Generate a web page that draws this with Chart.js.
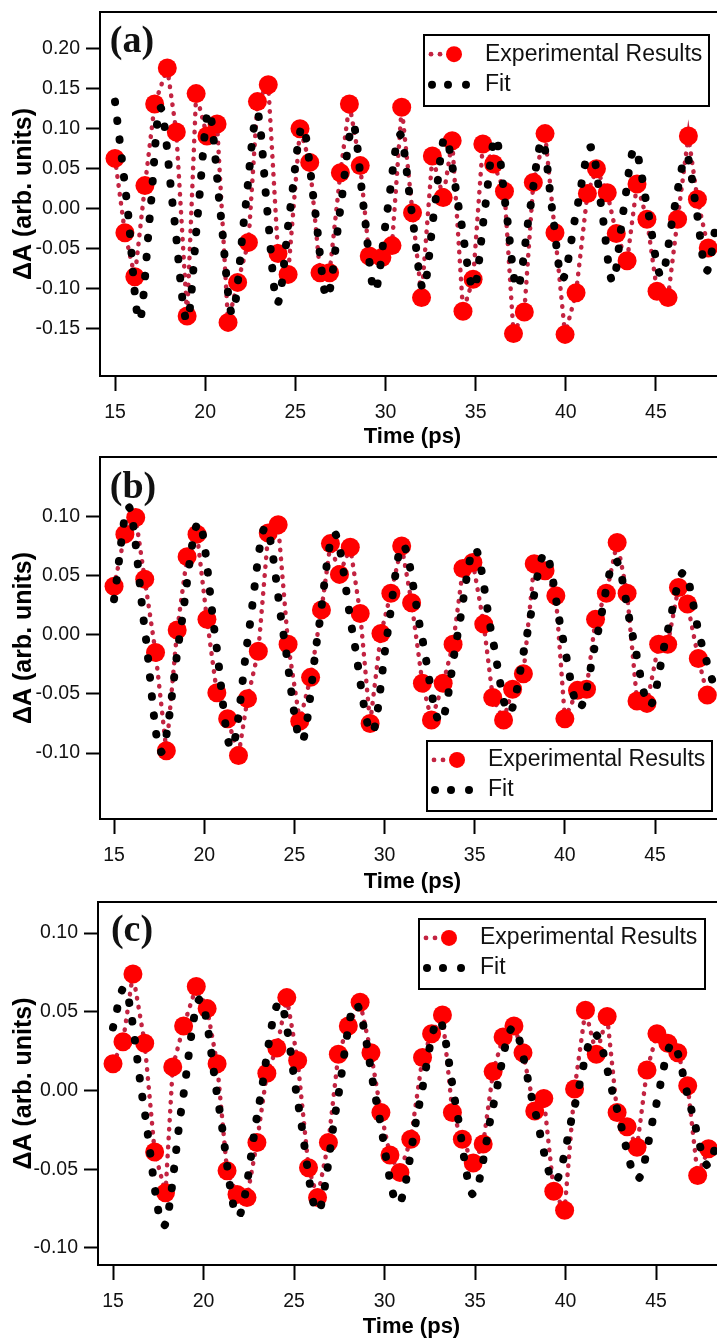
<!DOCTYPE html>
<html>
<head>
<meta charset="utf-8">
<script src="https://cdn.jsdelivr.net/npm/chart.js"></script>
<style>
  html, body { margin: 0; padding: 0; background: #fff; overflow: hidden; width: 717px; height: 1340px; }
  canvas { position: absolute; left: 0; }
</style>
</head>
<body>
<!-- the plots run a little past the right edge of the page -->
<canvas id="panelA" width="725" height="450" style="top:0px"></canvas>
<canvas id="panelB" width="725" height="445" style="top:450px"></canvas>
<canvas id="panelC" width="725" height="445" style="top:895px"></canvas>
<script>
// tick labels
const timeTicks = [15, 20, 25, 30, 35, 40, 45];
const dATicksA = [-0.15, -0.10, -0.05, 0.00, 0.05, 0.10, 0.15, 0.20];
const dATicksB = [-0.10, -0.05, 0.00, 0.05, 0.10];
const dATicksC = [-0.10, -0.05, 0.00, 0.05, 0.10];

// (a) measured transient absorption and fit
const expTimeA = [15.0, 15.55, 16.1, 16.66, 17.2, 17.9, 18.4, 19.0, 19.5, 20.1, 20.66, 21.27, 21.8, 22.4, 22.9, 23.5,
  24.04, 24.6, 25.26, 25.8, 26.37, 26.9, 27.5, 28.0, 28.6, 29.1, 29.8, 30.36, 30.9, 31.5, 32.0, 32.6, 33.2, 33.7,
  34.3, 34.86, 35.4, 36.0, 36.6, 37.1, 37.7, 38.2, 38.85, 39.4, 39.96, 40.57, 41.2, 41.7, 42.3, 42.8, 43.4, 43.95,
  44.5, 45.06, 45.67, 46.2, 46.8, 47.3, 47.9];
const expA = [0.063, -0.030, -0.085, 0.029, 0.131, 0.176, 0.096, -0.134, 0.144, 0.091, 0.106, -0.142, -0.092, -0.042,
  0.134, 0.155, -0.056, -0.082, 0.100, 0.058, -0.080, -0.080, 0.045, 0.131, 0.054, -0.059, -0.061, -0.046, 0.127,
  -0.005, -0.111, 0.066, 0.014, 0.085, -0.128, -0.088, 0.081, 0.056, 0.022, -0.156, -0.129, 0.033, 0.094, -0.030,
  -0.157, -0.105, 0.019, 0.050, 0.020, -0.031, -0.065, 0.031, -0.013, -0.103, -0.111, -0.013, 0.091, 0.012, -0.049];
const fitTimeA = [15.0, 15.7, 16.35, 16.95, 17.5, 18.25, 19.0, 19.6, 20.2, 20.85, 21.5, 22.2, 22.9, 23.45, 24.0, 24.7,
  25.4, 26.1, 26.75, 27.5, 28.2, 28.8, 29.4, 30.1, 30.8, 31.45, 32.1, 32.7, 33.3, 34.1, 34.9, 35.5, 36.1, 36.7, 37.3,
  38.0, 38.7, 39.25, 39.8, 40.6, 41.4, 42.0, 42.6, 43.2, 43.8, 44.55, 45.3, 46.0, 46.7, 47.25, 47.8, 48.4];
const fitA = [0.134, 0.000, -0.140, -0.005, 0.127, -0.005, -0.140, -0.005, 0.122, -0.005, -0.131, -0.005, 0.119,
  -0.003, -0.118, -0.003, 0.103, -0.003, -0.111, 0.000, 0.105, 0.000, -0.103, -0.003, 0.093, -0.003, -0.100, -0.003,
  0.089, -0.003, -0.100, -0.003, 0.089, -0.003, -0.099, -0.003, 0.085, -0.002, -0.088, -0.002, 0.077, -0.002, -0.091,
  -0.002, 0.075, -0.002, -0.084, -0.002, 0.066, -0.002, -0.078, -0.010];

// (b)
const expTimeB = [15.0, 15.6, 16.2, 16.7, 17.3, 17.9, 18.5, 19.05, 19.6, 20.15, 20.7, 21.3, 21.9, 22.4, 23.0, 23.55,
  24.1, 24.65, 25.3, 25.9, 26.5, 27.0, 27.5, 28.1, 28.65, 29.2, 29.8, 30.35, 30.95, 31.5, 32.1, 32.6, 33.25, 33.8,
  34.35, 34.9, 35.5, 36.0, 36.6, 37.1, 37.7, 38.3, 38.9, 39.5, 40.0, 40.7, 41.2, 41.7, 42.3, 42.9, 43.45, 44.0,
  44.55, 45.2, 45.7, 46.3, 46.8, 47.4, 47.9];
const expB = [0.041, 0.085, 0.099, 0.047, -0.015, -0.098, 0.004, 0.066, 0.085, 0.013, -0.049, -0.071, -0.102, -0.054,
  -0.014, 0.086, 0.093, -0.008, -0.073, -0.036, 0.021, 0.077, 0.051, 0.074, 0.018, -0.075, 0.001, 0.035, 0.075,
  0.027, -0.041, -0.072, -0.041, -0.008, 0.056, 0.061, 0.009, -0.053, -0.072, -0.046, -0.033, 0.060, 0.054, 0.033,
  -0.071, -0.047, -0.046, 0.013, 0.035, 0.078, 0.035, -0.056, -0.058, -0.008, -0.008, 0.040, 0.026, -0.020, -0.051];
const fitTimeB = [15.0, 15.8, 16.7, 17.6, 18.65, 19.7, 20.6, 21.5, 22.45, 23.4, 24.4, 25.4, 26.3, 27.2, 28.25, 29.3,
  30.15, 31.0, 32.05, 33.1, 34.05, 35.0, 35.95, 36.9, 37.9, 38.9, 39.85, 40.8, 41.8, 42.8, 43.75, 44.7, 45.65, 46.6,
  47.5, 48.4];
const fitB = [0.030, 0.108, 0.005, -0.099, 0.000, 0.095, 0.000, -0.096, 0.000, 0.091, 0.000, -0.090, 0.000, 0.086,
  0.000, -0.083, 0.000, 0.076, 0.000, -0.074, 0.000, 0.073, 0.000, -0.066, 0.000, 0.069, 0.000, -0.062, 0.000, 0.063,
  0.000, -0.060, 0.000, 0.053, -0.003, -0.050];

// (c)
const expTimeC = [15.0, 15.55, 16.1, 16.75, 17.3, 17.9, 18.3, 18.9, 19.6, 20.2, 20.75, 21.3, 21.85, 22.4, 22.95, 23.5,
  24.05, 24.6, 25.2, 25.8, 26.3, 26.9, 27.45, 28.0, 28.65, 29.25, 29.8, 30.3, 30.85, 31.45, 32.1, 32.6, 33.2, 33.75,
  34.3, 34.9, 35.45, 36.0, 36.55, 37.15, 37.65, 38.3, 38.8, 39.35, 39.95, 40.5, 41.1, 41.7, 42.3, 42.85, 43.4, 43.95,
  44.5, 45.05, 45.65, 46.2, 46.75, 47.3, 47.9];
const expC = [0.017, 0.031, 0.074, 0.030, -0.039, -0.065, 0.015, 0.041, 0.066, 0.052, 0.017, -0.051, -0.066, -0.068,
  -0.033, 0.011, 0.027, 0.059, 0.019, -0.049, -0.068, -0.033, 0.023, 0.041, 0.056, 0.024, -0.014, -0.041, -0.052,
  -0.031, 0.021, 0.036, 0.048, -0.014, -0.031, -0.046, -0.034, 0.012, 0.034, 0.041, 0.024, -0.013, -0.005, -0.064,
  -0.076, 0.001, 0.051, 0.023, 0.047, -0.014, -0.023, -0.036, 0.013, 0.036, 0.030, 0.024, 0.003, -0.054, -0.037];
const fitTimeC = [15.0, 15.6, 16.7, 17.8, 18.8, 19.8, 20.85, 21.9, 23.05, 24.2, 25.25, 26.3, 27.35, 28.4, 29.6, 30.75,
  31.9, 33.0, 33.95, 34.9, 36.0, 37.1, 38.25, 39.4, 40.5, 41.6, 42.8, 44.0, 44.95, 45.9, 46.9, 47.9, 48.4];
const fitC = [0.040, 0.065, -0.010, -0.086, -0.010, 0.058, -0.010, -0.080, -0.010, 0.056, -0.010, -0.077, -0.010,
  0.055, -0.010, -0.072, -0.010, 0.045, -0.010, -0.066, -0.010, 0.040, -0.010, -0.058, -0.010, 0.036, -0.010, -0.056,
  -0.012, 0.030, -0.010, -0.048, -0.030];

const SANS = "'Liberation Sans', Arial, sans-serif";
Chart.defaults.font.family = SANS;
Chart.defaults.color = '#000';

function zip(xs, ys) {
  return xs.map((x, i) => ({ x: x, y: ys[i] }));
}

// top edge of the plot frame (left and bottom come from the axis borders)
const topEdge = {
  id: 'topEdge',
  afterDraw(chart) {
    const { ctx, chartArea } = chart;
    ctx.save();
    ctx.strokeStyle = '#000';
    ctx.lineWidth = 2;
    ctx.beginPath();
    ctx.moveTo(chartArea.left - 1, chartArea.top);
    ctx.lineTo(chart.width, chartArea.top);
    ctx.stroke();
    ctx.restore();
  }
};

// boxed legend with dotted-line samples
const keyBox = {
  id: 'keyBox',
  afterDatasetsDraw(chart, args, o) {
    const ctx = chart.ctx;
    const exp = chart.data.datasets[0];
    const fit = chart.data.datasets[1];
    const r1 = o.y + o.h * 0.27;
    const r2 = o.y + o.h * 0.70;
    ctx.save();
    ctx.fillStyle = '#fff';
    ctx.fillRect(o.x, o.y, o.w, o.h);
    ctx.lineWidth = 2;
    ctx.strokeStyle = '#000';
    ctx.strokeRect(o.x, o.y, o.w, o.h);

    ctx.fillStyle = exp.borderColor;
    [7, 16].forEach(dx => {
      ctx.beginPath(); ctx.arc(o.x + dx, r1, 2.4, 0, Math.PI * 2); ctx.fill();
    });
    ctx.fillStyle = exp.pointBackgroundColor;
    ctx.beginPath(); ctx.arc(o.x + 30, r1, 8, 0, Math.PI * 2); ctx.fill();

    ctx.fillStyle = '#000';
    [8, 24, 42].forEach(dx => {
      ctx.beginPath(); ctx.arc(o.x + dx, r2, 4, 0, Math.PI * 2); ctx.fill();
    });

    ctx.font = '23px ' + SANS;
    ctx.textBaseline = 'middle';
    ctx.fillStyle = '#111';
    ctx.fillText(exp.label, o.x + 61, r1);
    ctx.fillText(fit.label, o.x + 61, r2);
    ctx.restore();
  }
};

// panel letter in the upper left corner
const panelTag = {
  id: 'panelTag',
  afterDraw(chart, args, o) {
    const ctx = chart.ctx;
    ctx.save();
    ctx.font = "bold 38px 'Liberation Serif', 'Times New Roman', serif";
    ctx.textAlign = 'center';
    ctx.textBaseline = 'alphabetic';
    ctx.fillStyle = '#111';
    ctx.fillText(o.text, o.x, o.y + 9);
    ctx.restore();
  }
};

function makePanel(id, p) {
  return new Chart(document.getElementById(id), {
    type: 'line',
    data: {
      datasets: [
        {
          label: 'Experimental Results',
          data: zip(p.expT, p.expV),
          borderColor: 'rgb(195, 35, 65)',
          borderWidth: 4.5,
          borderDash: [0.5, 8.5],
          borderCapStyle: 'round',
          pointRadius: 9.5,
          pointHoverRadius: 9.5,
          pointBackgroundColor: '#ff0000',
          pointBorderWidth: 0,
          tension: 0,
          order: 1
        },
        {
          label: 'Fit',
          data: zip(p.fitT, p.fitV),
          borderColor: '#000',
          borderWidth: 8,
          borderDash: [0.5, 18.5],
          borderCapStyle: 'round',
          pointRadius: 0,
          cubicInterpolationMode: 'monotone',
          order: 0
        }
      ]
    },
    options: {
      responsive: false,
      animation: false,
      events: [],
      layout: { autoPadding: false, padding: { top: p.top, right: 0, bottom: 0, left: 0 } },
      plugins: {
        legend: { display: false },
        tooltip: { enabled: false },
        keyBox: p.key,
        panelTag: p.tag
      },
      scales: {
        x: {
          type: 'linear',
          min: p.xMin,
          max: p.xMax,
          afterBuildTicks: s => { s.ticks = timeTicks.map(v => ({ value: v })); },
          afterFit: s => { s.height = p.xHeight; s.paddingLeft = 0; s.paddingRight = 0; },
          border: { display: true, color: '#000', width: 2 },
          grid: { display: true, drawOnChartArea: false, drawTicks: true, tickLength: 15, tickWidth: 2, tickColor: '#000' },
          ticks: { font: { size: 19.5 }, color: '#111', padding: 10, maxRotation: 0, autoSkip: false,
            callback: v => String(v) },
          title: { display: true, text: 'Time (ps)', color: '#000', font: { size: 22, weight: 'bold' },
            padding: { top: 0, bottom: 0 } }
        },
        y: {
          min: p.yMin,
          max: p.yMax,
          afterBuildTicks: s => { s.ticks = p.yTicks.map(v => ({ value: v })); },
          afterFit: s => { s.width = p.left; s.paddingTop = 0; s.paddingBottom = 0; },
          border: { display: true, color: '#000', width: 2 },
          grid: { display: true, drawOnChartArea: false, drawTicks: true, tickLength: 14, tickWidth: 2, tickColor: '#000' },
          ticks: { font: { size: 19.5 }, color: '#111', padding: 6, autoSkip: false,
            callback: v => (Math.abs(v) < 1e-9 ? 0 : v).toFixed(2) },
          title: { display: true, text: 'ΔA (arb. units)', color: '#000', font: { size: 25, weight: 'bold' },
            padding: { top: 9, bottom: 0 } }
        }
      }
    },
    plugins: [topEdge, keyBox, panelTag]
  });
}

makePanel('panelA', {
  expT: expTimeA, expV: expA, fitT: fitTimeA, fitV: fitA, yTicks: dATicksA,
  xMin: 14.168, xMax: 48.83, yMin: -0.209, yMax: 0.246,
  top: 12, left: 100, xHeight: 74,
  key: { x: 424, y: 35, w: 285, h: 71 },
  tag: { text: '(a)', x: 132, y: 43 }
});

makePanel('panelB', {
  expT: expTimeB, expV: expB, fitT: fitTimeB, fitV: fitB, yTicks: dATicksB,
  xMin: 14.22, xMax: 48.88, yMin: -0.1557, yMax: 0.1502,
  top: 7, left: 100, xHeight: 76,
  key: { x: 427, y: 291, w: 285, h: 70 },
  tag: { text: '(b)', x: 133, y: 39 }
});

makePanel('panelC', {
  expT: expTimeC, expV: expC, fitT: fitTimeC, fitV: fitC, yTicks: dATicksC,
  xMin: 14.17, xMax: 48.81, yMin: -0.1108, yMax: 0.1197,
  top: 7, left: 98, xHeight: 75,
  key: { x: 419, y: 24, w: 286, h: 70 },
  tag: { text: '(c)', x: 132, y: 37 }
});
</script>
</body>
</html>
